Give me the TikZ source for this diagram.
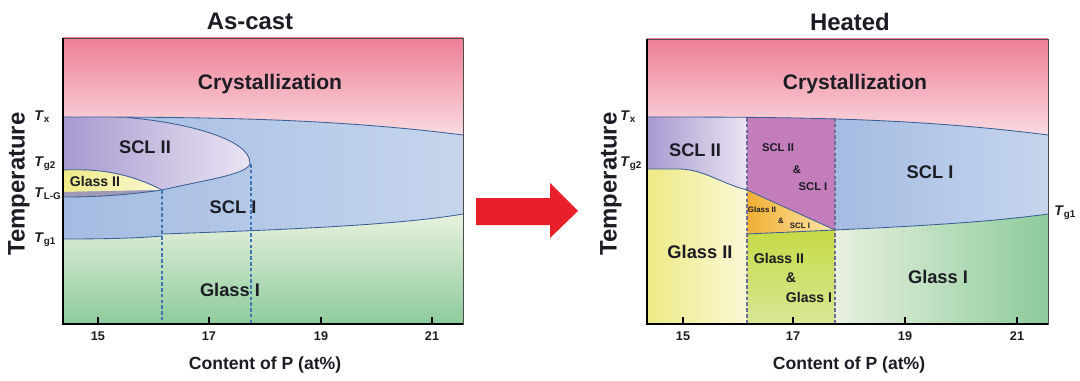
\documentclass[tikz,border=0pt]{standalone}
\usepackage{fontspec}
\setmainfont{Liberation Sans}
\usetikzlibrary{positioning}

\definecolor{pinktop}{HTML}{EE7F96}
\definecolor{pinklow}{HTML}{FBE4E9}
\definecolor{sclonel}{HTML}{A4BCE2}
\definecolor{scloner}{HTML}{C6D5ED}
\definecolor{scltwol}{HTML}{A899CF}
\definecolor{scltwor}{HTML}{EAE4F3}
\definecolor{gltwol}{HTML}{EEEA86}
\definecolor{gltwor}{HTML}{FAF8D6}
\definecolor{glonet}{HTML}{E8F1DE}
\definecolor{gloneb}{HTML}{8DCB9C}
\definecolor{bandgray}{HTML}{9F99B5}
\definecolor{edgeblue}{HTML}{3A5F95}
\definecolor{dashblue}{HTML}{3F75B5}
\definecolor{dashpurple}{HTML}{6F6A9C}
\definecolor{mixpurple}{HTML}{C37DBB}
\definecolor{mixorangel}{HTML}{F2AE32}
\definecolor{mixoranger}{HTML}{FCE8AC}
\definecolor{mixgreent}{HTML}{C6DA45}
\definecolor{mixgreenb}{HTML}{D8E795}
\definecolor{arrowred}{HTML}{E8202A}
\definecolor{inkdark}{HTML}{1C1C24}

\newcommand{\tsym}[1]{\textbf{\textit{T}}\textsubscript{\textbf{#1}}}

\begin{document}
\begin{tikzpicture}[x=0.025cm,y=-0.025cm,
    txt/.style={text=inkdark,inner sep=0pt,font=\bfseries},
    title/.style={txt,font=\fontsize{17}{20}\selectfont\bfseries},
    region/.style={txt,font=\fontsize{15}{18}\selectfont\bfseries},
    phase/.style={txt,font=\fontsize{13}{15}\selectfont\bfseries},
    phasesm/.style={txt,font=\fontsize{10}{12}\selectfont\bfseries},
    phasexs/.style={txt,font=\fontsize{8}{10}\selectfont\bfseries},
    phasetiny/.style={txt,font=\fontsize{5.6}{7}\selectfont\bfseries},
    axlab/.style={txt,font=\fontsize{12.5}{15}\selectfont\bfseries},
    ylab/.style={txt,font=\fontsize{17}{20}\selectfont\bfseries,rotate=90},
    ticklab/.style={txt,font=\fontsize{9}{11}\selectfont\bfseries},
    tlab/.style={txt,anchor=west,font=\fontsize{10}{12}\selectfont},
    edge/.style={draw=edgeblue,line width=0.6pt},
    dashline/.style={draw=dashblue,line width=0.8pt,dash pattern=on 2.5pt off 1.6pt},
    tickmark/.style={draw=black,line width=0.9pt}]
\useasboundingbox (0,0) rectangle (1080,381);

% As-cast
\shade[top color=pinktop,bottom color=pinklow] (63,38) rectangle (463,145);
\begin{scope}
  \clip (63,117) .. controls (200,117) and (330,118) .. (463,135) -- (463,324) -- (63,324) -- cycle;
  \shade[left color=sclonel,right color=scloner] (63,110) rectangle (463,324);
  \shade[top color=glonet,bottom color=gloneb] (63,239) .. controls (110,239) and (140,238) .. (162,236)
    -- (162,234) .. controls (280,230) and (400,225) .. (463,214) -- (463,324) -- (63,324) -- cycle;
  \shade[left color=scltwol,right color=scltwor] (63,110) -- (127,110) -- (127,117.5)
    .. controls (190,123) and (250,140) .. (250,163) .. controls (250,174) and (205,180) .. (162,190)
    .. controls (135,176) and (105,168) .. (63,170) -- cycle;
  \shade[left color=gltwol,right color=gltwor] (63,170) .. controls (105,168) and (135,176) .. (162,190)
    -- (63,192) -- cycle;
  \fill[bandgray] (63,192) -- (162,190) .. controls (120,196) and (90,197) .. (63,197) -- cycle;
\end{scope}
\draw[edge] (63,117) .. controls (200,117) and (330,118) .. (463,135);
\draw[edge] (127,117.5) .. controls (190,123) and (250,140) .. (250,163)
  .. controls (250,174) and (205,180) .. (162,190);
\draw[edge] (63,170) .. controls (105,168) and (135,176) .. (162,190);
\draw[edge] (162,190) .. controls (120,196) and (90,197) .. (63,197);
\draw[edge] (63,239) .. controls (110,239) and (140,238) .. (162,236);
\draw[edge] (162,234) .. controls (280,230) and (400,225) .. (463,214);
\draw[dashline] (162,190) -- (162,324);
\draw[dashline] (251,164) -- (251,324);
\draw[draw=black!70,line width=0.5pt] (63,38) rectangle (463,324);
\draw[draw=black,line width=1.1pt] (63,38) -- (63,324) -- (463,324);
\foreach \x/\v in {98/15,209/17,321/19,432/21} {
  \draw[tickmark] (\x,324) -- (\x,317);
  \node[ticklab] (tickA\v) at (\x,336) {\v};
}
\node[title] (ttlA) at (250,21) {As-cast};
\node[region] (crysA) at (270,84) {Crystallization};
\node[phase] (scltwoA) at (145,147) {SCL II};
\node[phasesm] (gltwoA) at (95,181) {Glass II};
\node[phase] (scloneA) at (233,207) {SCL I};
\node[phase] (gloneA) at (230,290) {Glass I};
\node[axlab] (xlabA) at (265,365) {Content of P (at\%)};
\node[ylab] (ylabA) at (19,184) {Temperature};
\node[tlab] (txA) at (34,117) {\tsym{x}};
\node[tlab] (tgtwoA) at (34,164) {\tsym{g2}};
\node[tlab] (tlgA) at (34,194) {\tsym{L-G}};
\node[tlab] (tgoneA) at (34,240) {\tsym{g1}};

% arrow
\fill[arrowred] (476,198) -- (550,198) -- (550,183) -- (578,211) -- (550,238) -- (550,225) -- (476,225) -- cycle;

% Heated
\shade[top color=pinktop,bottom color=pinklow] (647,39) rectangle (1048,145);
\begin{scope}
  \clip (647,117) .. controls (800,117) and (915,118) .. (1048,135) -- (1048,324) -- (647,324) -- cycle;
  \shade[left color=scltwol,right color=scltwor] (647,110) -- (747,110) -- (747,190)
    .. controls (720,183) and (705,170) .. (680,169) -- (647,169) -- cycle;
  \shade[left color=gltwol,right color=gltwor] (647,169) -- (680,169)
    .. controls (705,170) and (720,183) .. (747,190) -- (747,324) -- (647,324) -- cycle;
  \fill[mixpurple] (747,110) -- (835,110) -- (835,230) -- (747,190) -- cycle;
  \shade[shading angle=45,left color=mixorangel,right color=mixoranger] (747,190) -- (835,230) -- (747,234) -- cycle;
  \shade[top color=mixgreent,bottom color=mixgreenb] (747,234) -- (835,230) -- (835,324) -- (747,324) -- cycle;
  \shade[left color=sclonel,right color=scloner] (835,110) -- (1048,110) -- (1048,214)
    .. controls (990,222) and (920,226) .. (835,230) -- cycle;
  \shade[left color=glonet,right color=gloneb] (835,230) .. controls (920,226) and (990,222) .. (1048,214)
    -- (1048,324) -- (835,324) -- cycle;
\end{scope}
\draw[edge] (647,117) .. controls (800,117) and (915,118) .. (1048,135);
\draw[edge] (647,169) -- (680,169) .. controls (705,170) and (720,183) .. (747,190) -- (835,230);
\draw[edge] (747,234) -- (835,230) .. controls (920,226) and (990,222) .. (1048,214);
\draw[dashline,draw=dashpurple] (747,118) -- (747,324);
\draw[dashline,draw=dashpurple] (835,118) -- (835,324);
\draw[draw=black!70,line width=0.5pt] (647,39) rectangle (1048,324);
\draw[draw=black,line width=1.1pt] (647,39) -- (647,324) -- (1048,324);
\foreach \x/\v in {683/15,793/17,905/19,1017/21} {
  \draw[tickmark] (\x,324) -- (\x,317);
  \node[ticklab] (tickB\v) at (\x,336) {\v};
}
\node[title] (ttlB) at (850,22) {Heated};
\node[region] (crysB) at (855,84) {Crystallization};
\node[phase] (scltwoB) at (695,150) {SCL II};
\node[phasexs] (mixaB) at (778,148) {SCL II};
\node[phasexs] (mixbB) at (797,170) {\&};
\node[phasexs] (mixcB) at (813,187) {SCL I};
\node[phasetiny] (mixdB) at (762,210) {Glass II};
\node[phasetiny] (mixeB) at (781,221) {\&};
\node[phasetiny] (mixfB) at (800,226) {SCL I};
\node[phase] (scloneB) at (930,172) {SCL I};
\node[phase] (gltwoB) at (700,252) {Glass II};
\node[phasesm] (mixgB) at (779,258) {Glass II};
\node[phasesm] (mixhB) at (791,278) {\&};
\node[phasesm] (mixiB) at (809,297) {Glass I};
\node[phase] (gloneB) at (938,277) {Glass I};
\node[axlab] (xlabB) at (849,365) {Content of P (at\%)};
\node[ylab] (ylabB) at (611,184) {Temperature};
\node[tlab] (txB) at (620,117) {\tsym{x}};
\node[tlab] (tgtwoB) at (620,164) {\tsym{g2}};
\node[tlab] (tgoneB) at (1054,213) {\tsym{g1}};
\end{tikzpicture}
\end{document}
